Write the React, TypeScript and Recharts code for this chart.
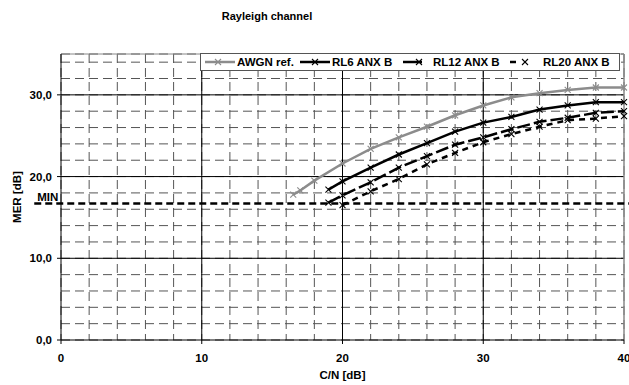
import React from "react";
import {
  CartesianGrid,
  Label,
  Line,
  LineChart,
  ReferenceLine,
  XAxis,
  YAxis,
} from "recharts";

const FONT = "'Liberation Sans', Arial, sans-serif";

// C/N [dB] positions and MER [dB] values for each curve
const awgnCn = [16.5, 17, 18, 20, 22, 24, 26, 28, 30, 32, 34, 36, 38, 40];
const awgnMer = [17.8, 18.3, 19.5, 21.6, 23.4, 24.8, 26.1, 27.5, 28.7, 29.7, 30.2, 30.6, 30.9, 30.9];

const rl6Cn = [19, 20, 22, 24, 26, 28, 30, 32, 34, 36, 38, 40];
const rl6Mer = [18.4, 19.4, 21.1, 22.7, 24.1, 25.5, 26.6, 27.3, 28.2, 28.7, 29.1, 29.1];

const rl12Cn = [19, 20, 22, 24, 26, 28, 30, 32, 34, 36, 38, 40];
const rl12Mer = [16.8, 17.7, 19.3, 21.1, 22.5, 23.9, 24.8, 25.8, 26.7, 27.2, 27.8, 28.0];

const rl20Cn = [20, 22, 24, 26, 28, 30, 32, 34, 36, 38, 40];
const rl20Mer = [16.5, 18.2, 19.7, 21.5, 22.9, 24.2, 25.2, 26.1, 26.9, 27.1, 27.4];

const MIN_MER = 16.7;

const xTicks = [0, 2, 4, 6, 8, 10, 12, 14, 16, 18, 20, 22, 24, 26, 28, 30, 32, 34, 36, 38, 40];
const yTicks = [0, 2, 4, 6, 8, 10, 12, 14, 16, 18, 20, 22, 24, 26, 28, 30, 32, 34];
const majorX = [10, 20, 30];
const majorY = [10, 20, 30];

const toPoints = (cn: number[], mer: number[]) => cn.map((c, i) => ({ cn: c, mer: mer[i] }));

const series = [
  { name: "AWGN ref.", data: toPoints(awgnCn, awgnMer), color: "#8c8c8c", dash: undefined },
  { name: "RL6 ANX B", data: toPoints(rl6Cn, rl6Mer), color: "#000", dash: undefined },
  { name: "RL12 ANX B", data: toPoints(rl12Cn, rl12Mer), color: "#000", dash: "13 4" },
  { name: "RL20 ANX B", data: toPoints(rl20Cn, rl20Mer), color: "#000", dash: "6 5" },
];

// legend layout inside the box: sample line start/end, marker, text start
const legendLayout = [
  { x1: 5, x2: 35, m: 18, t: 37, dash: undefined },
  { x1: 100, x2: 130, m: 115, t: 132, dash: undefined },
  { x1: 203, x2: 222, m: 219, t: 233, dash: undefined },
  { x1: 310, x2: 316, m: 325, t: 343, dash: undefined },
];

const Cross = ({ cx, cy, stroke }: any) => {
  if (cx == null || cy == null) return null;
  const s = 3;
  return (
    <g stroke={stroke} strokeWidth={1.1}>
      <line x1={cx - s} y1={cy - s} x2={cx + s} y2={cy + s} />
      <line x1={cx - s} y1={cy + s} x2={cx + s} y2={cy - s} />
    </g>
  );
};

const YTick = ({ x, y, payload }: any) => {
  const v = payload.value;
  if (v % 10 !== 0) return null;
  return (
    <g>
      <line x1={x + 5} y1={y} x2={x + 9} y2={y} stroke="#000" />
      <text x={x} y={y} dy="0.36em" textAnchor="end" fontSize={11.5} fontWeight="bold" fontFamily={FONT} fill="#000">
        {v.toFixed(1).replace(".", ",")}
      </text>
    </g>
  );
};

const XTick = ({ x, y, payload }: any) => {
  const v = payload.value;
  if (v % 10 !== 0) return null;
  return (
    <g>
      <line x1={x} y1={y - 14} x2={x} y2={y - 10} stroke="#000" />
      <text x={x} y={y} dy="0.71em" textAnchor="middle" fontSize={11.5} fontWeight="bold" fontFamily={FONT} fill="#000">
        {v}
      </text>
    </g>
  );
};

function LegendBox() {
  return (
    <svg width={422} height={19} style={{ display: "block" }}>
      <rect x={0.5} y={0.5} width={419} height={17} fill="#fff" stroke="#555" />
      {series.map((s, i) => {
        const l = legendLayout[i];
        return (
          <g key={s.name}>
            <line x1={l.x1} y1={9} x2={l.x2} y2={9} stroke={s.color} strokeWidth={2.5} />
            <Cross cx={l.m} cy={9} stroke={s.color} />
            <text x={l.t} y={13} fontSize={11.5} fontWeight="bold" fontFamily={FONT} fill="#000">
              {s.name}
            </text>
          </g>
        );
      })}
    </svg>
  );
}

export default function App() {
  return (
    <div style={{ position: "absolute", left: 0, top: 0, width: 629, height: 385, background: "#fff" }}>
      <div
        style={{
          position: "absolute",
          left: 0,
          width: 534,
          top: 10,
          textAlign: "center",
          fontFamily: FONT,
          fontWeight: "bold",
          fontSize: 11,
        }}
      >
        Rayleigh channel
      </div>
      <LineChart width={629} height={385} margin={{ top: 54, right: 5, left: 0, bottom: 0 }}>
        <CartesianGrid stroke="#555" strokeDasharray="9 5" />
        <XAxis
          dataKey="cn"
          type="number"
          domain={[0, 40]}
          ticks={xTicks}
          interval={0}
          height={45}
          tickLine={false}
          tickSize={5}
          tickMargin={9}
          tick={<XTick />}
          axisLine={{ stroke: "#000" }}
          allowDuplicatedCategory={false}
        >
          <Label
            content={({ viewBox }: any) => (
              <text
                x={viewBox.x + viewBox.width / 2}
                y={viewBox.y + 39}
                textAnchor="middle"
                fontSize={11.5}
                fontWeight="bold"
                fontFamily={FONT}
              >
                C/N [dB]
              </text>
            )}
          />
        </XAxis>
        <YAxis
          dataKey="mer"
          type="number"
          domain={[0, 35]}
          ticks={yTicks}
          interval={0}
          width={61}
          tickLine={false}
          tickSize={6}
          tickMargin={3}
          tick={<YTick />}
          axisLine={{ stroke: "#000" }}
        >
          <Label
            content={({ viewBox }: any) => {
              const cx = viewBox.x + 17;
              const cy = viewBox.y + viewBox.height / 2;
              return (
                <text
                  x={cx}
                  y={cy}
                  transform={`rotate(-90 ${cx} ${cy})`}
                  textAnchor="middle"
                  dominantBaseline="central"
                  fontSize={11.5}
                  fontWeight="bold"
                  fontFamily={FONT}
                >
                  MER [dB]
                </text>
              );
            }}
          />
        </YAxis>
        {majorX.map((v) => (
          <ReferenceLine key={`vx${v}`} x={v} stroke="#000" strokeWidth={1} />
        ))}
        {majorY.map((v) => (
          <ReferenceLine key={`hy${v}`} y={v} stroke="#000" strokeWidth={1} />
        ))}
        <ReferenceLine x={40} stroke="#888" strokeWidth={1.5} />
        <ReferenceLine y={35} stroke="#888" strokeWidth={1} />
        <ReferenceLine
          segment={[
            { x: -1.9, y: MIN_MER },
            { x: 40.4, y: MIN_MER },
          ]}
          ifOverflow="visible"
          stroke="#000"
          strokeWidth={2.6}
          strokeDasharray="7 4"
          label={{
            value: "MIN",
            position: "insideBottomLeft",
            offset: 3,
            fontSize: 11.5,
            fontWeight: "bold",
            fontFamily: FONT,
            fill: "#000",
          }}
        />
        {series.map((s) => (
          <Line
            key={s.name}
            data={s.data}
            dataKey="mer"
            name={s.name}
            type="linear"
            stroke={s.color}
            strokeWidth={2.5}
            strokeDasharray={s.dash}
            dot={<Cross stroke={s.color} />}
            activeDot={false}
            isAnimationActive={false}
          />
        ))}
      </LineChart>
      <div style={{ position: "absolute", left: 200, top: 53 }}>
        <LegendBox />
      </div>
    </div>
  );
}
